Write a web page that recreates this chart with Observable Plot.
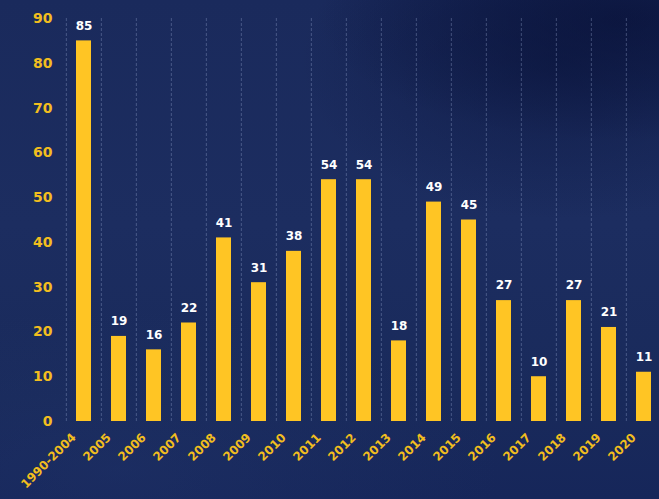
<!DOCTYPE html>
<html>
<head>
<meta charset="utf-8">
<script src="https://cdn.jsdelivr.net/npm/d3@7"></script>
<script src="https://cdn.jsdelivr.net/npm/@observablehq/plot@0.6"></script>
<style>
  html, body { margin: 0; padding: 0; }
  #chart {
    width: 659px; height: 499px; position: relative; overflow: hidden;
    background:
      radial-gradient(ellipse 260px 160px at 560px 60px, rgba(10,20,60,0.55), rgba(10,20,60,0) 100%),
      radial-gradient(ellipse 300px 120px at 620px 20px, rgba(8,16,55,0.7), rgba(8,16,55,0) 100%),
      radial-gradient(ellipse 380px 160px at 120px 470px, rgba(35,55,110,0.35), rgba(35,55,110,0) 100%),
      linear-gradient(180deg, #1a2a5c 0%, #1c2d60 45%, #192a5b 80%, #16265a 100%);
  }
  #chart svg { position: absolute; left: 0; top: 0; background: transparent; }
</style>
</head>
<body>
<div id="chart"></div>
<script>
const categories = ["1990-2004","2005","2006","2007","2008","2009","2010","2011","2012","2013","2014","2015","2016","2017","2018","2019","2020"];
const values = [85,19,16,22,41,31,38,54,54,18,49,45,27,10,27,21,11];
const yTicks = [0,10,20,30,40,50,60,70,80,90];

const data = categories.map((c, i) => ({category: c, value: values[i]}));
const xRange = [64, 664];
const step = (xRange[1] - xRange[0]) / categories.length;

const chart = Plot.plot({
  width: 659,
  height: 499,
  marginTop: 18,
  marginBottom: 78,
  marginLeft: 64,
  marginRight: 0,
  style: {background: "transparent", fontFamily: "'DejaVu Sans', sans-serif"},
  x: {domain: categories, range: xRange, paddingInner: 0.57, paddingOuter: 0.285, label: null},
  y: {domain: [0, 90], label: null},
  marks: [
    Plot.ruleX(categories, {x: d => d, y1: 0, y2: 90, dx: -step / 2, stroke: "#9fb0d8", strokeOpacity: 0.35, strokeDasharray: "3,2", strokeWidth: 1}),
    Plot.barY(data, {x: "category", y: "value", fill: "#ffc524"}),
    Plot.text(data, {x: "category", y: "value", text: d => String(d.value), dy: -15, fill: "#ffffff", fontSize: 12, fontWeight: "bold"}),
    Plot.axisY(yTicks, {tickSize: 0, tickPadding: 12, fill: "#f2be1e", fontSize: 14, fontWeight: "bold", label: null}),
    Plot.axisX({tickSize: 0, tickRotate: -45, tickPadding: 14, dx: -10, fill: "#f2be1e", fontSize: 12, fontWeight: "bold", label: null})
  ]
});
document.getElementById("chart").appendChild(chart);
</script>
</body>
</html>
